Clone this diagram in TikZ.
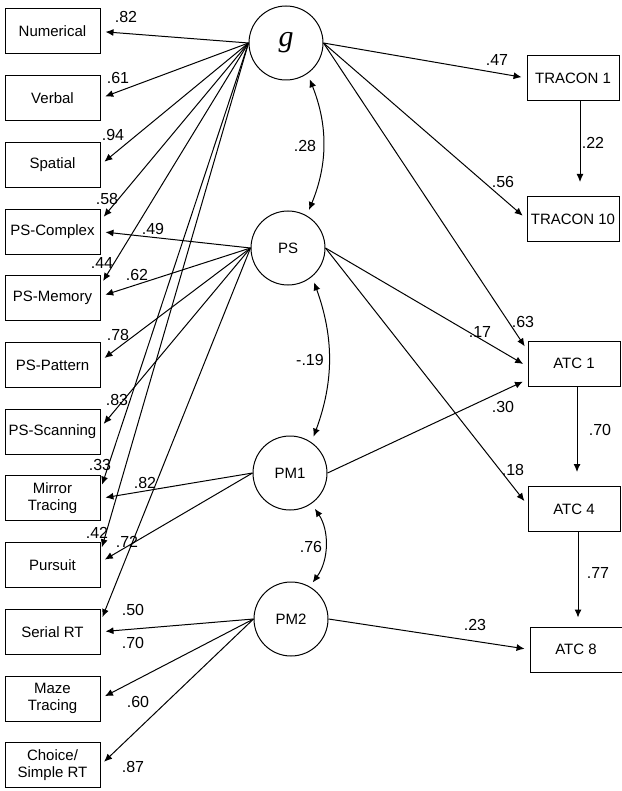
\documentclass[tikz,border=0pt]{standalone}
\usepackage{fontspec}
\setmainfont{Liberation Sans}
\newfontfamily\gfont{Liberation Serif}
\usetikzlibrary{arrows.meta}
\begin{document}
\begin{tikzpicture}[x=1pt, y=-1pt, line width=1pt, >={Latex[length=8pt,width=7pt]},
		every node/.style={font=\fontsize{15}{17}\selectfont, inner sep=1pt},
		obs/.style={draw, minimum width=95pt, minimum height=45pt, align=center},
		lat/.style={circle, draw, minimum size=74pt},
		load/.style={->, shorten >=5pt}, wt/.style={font=\fontsize{16}{16}\selectfont}]
		\useasboundingbox (0,0) rectangle (621,791);
		\foreach \n/\t [count=\i] in {num/Numerical, verb/Verbal, spat/Spatial, cplx/PS-Complex,
			mem/PS-Memory, patt/PS-Pattern, scan/PS-Scanning, mirr/{Mirror\\Tracing}, purs/Pursuit,
			serl/Serial RT, maze/{Maze\\Tracing}, chce/{Choice/\\Simple RT}}
			\node[obs] (\n) at (52.5, 31.5+66.7*\i-66.7) {\t};
		\node[lat] (g) at (286,43) {\fontsize{30}{30}\selectfont\gfont\itshape g};
		\node[lat] (ps) at (288,248) {PS};
		\node[lat] (pm1) at (290,473) {PM1};
		\node[lat] (pm2) at (291,619) {PM2};
		\node[obs, minimum width=92pt] (tr1) at (573,78) {TRACON 1};
		\node[obs, minimum width=92pt] (tr10) at (573,219) {TRACON 10};
		\node[obs, minimum width=92pt] (atc1) at (574,363.5) {ATC 1};
		\node[obs, minimum width=92pt] (atc4) at (574,509) {ATC 4};
		\node[obs, minimum width=92pt] (atc8) at (576,649.5) {ATC 8};
		\draw[load] (g.west) -- (num.east);
		\draw[load] (g.west) -- (verb.east);
		\draw[load] (g.west) -- (spat.east);
		\draw[load] (g.west) -- ([yshift=11pt]cplx.east);
		\draw[load] (g.west) -- ([yshift=13pt]mem.east);
		\draw[load] (g.west) -- ([yshift=9pt]mirr.east);
		\draw[load] (g.west) -- ([yshift=13pt]purs.east);
		\draw[load] (ps.west) -- (cplx.east);
		\draw[load] (ps.west) -- ([yshift=2pt]mem.east);
		\draw[load] (ps.west) -- ([yshift=4pt]patt.east);
		\draw[load] (ps.west) -- ([yshift=4pt]scan.east);
		\draw[load] (ps.west) -- ([yshift=10pt]serl.east);
		\draw[load] (pm1.west) -- (mirr.east);
		\draw[load] (pm1.west) -- ([yshift=3pt]purs.east);
		\draw[load] (pm2.west) -- (serl.east);
		\draw[load] (pm2.west) -- (maze.east);
		\draw[load] (pm2.west) -- (chce.east);
		\draw[load] (g.east) -- (tr1.west);
		\draw[load] (g.east) -- (tr10.west);
		\draw[load] (g.east) -- ([yshift=13pt]atc1.west);
		\draw[load] (ps.east) -- ([yshift=-3pt]atc1.west);
		\draw[load] (ps.east) -- ([yshift=4pt]atc4.west);
		\draw[load] (pm1.east) -- ([yshift=-16pt]atc1.west);
		\draw[load] (pm2.east) -- (atc8.west);
		\draw[->, shorten >=14pt] ([xshift=7pt]tr1.south) -- ([xshift=7pt]tr10.north);
		\draw[->, shorten >=14pt] ([xshift=3pt]atc1.south) -- ([xshift=3pt]atc4.north);
		\draw[->, shorten >=9pt] ([xshift=4pt]atc4.south) -- ([xshift=2pt]atc8.north);
		\draw[<->, shorten <=6pt, shorten >=6pt] (g.-55) to[bend left=22] (ps.60);
		\draw[<->, shorten <=6pt, shorten >=6pt] (ps.-50) to[bend left=20] (pm1.55);
		\draw[<->, shorten <=6pt, shorten >=5pt] (pm1.-55) to[bend left=35] (pm2.60);
		\foreach \n/\p/\t in {w1/{126,17}/.82, w2/{118,78}/.61, w3/{113,135}/.94, w4/{107,199}/.58,
			w5/{153,229}/.49, w6/{102,263}/.44, w7/{137,275}/.62, w8/{118,335}/.78, w9/{117,400}/.83,
			w10/{100,465}/.33, w11/{145,483}/.82, w12/{97,533}/.42, w13/{127,542}/.72, w14/{133,610}/.50,
			w15/{133,643}/.70, w16/{138,702}/.60, w17/{133,767}/.87, w18/{497,60}/.47, w19/{593,143}/.22,
			w20/{503,182}/.56, w21/{523,322}/.63, w22/{480,332}/.17, w23/{503,407}/.30, w24/{600,430}/.70,
			w25/{513,470}/.18, w26/{598,573}/.77, w27/{475,625}/.23, w28/{305,146}/.28,
			w29/{310,360}/-.19, w30/{311,547}/.76}
			\node[wt] (\n) at (\p) {\t};
	\end{tikzpicture}
\end{document}
